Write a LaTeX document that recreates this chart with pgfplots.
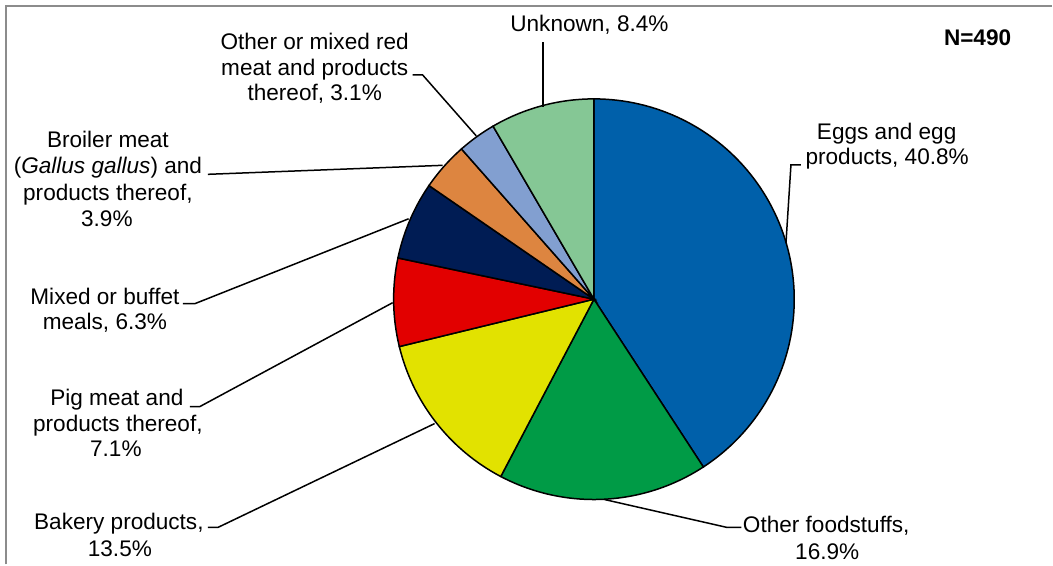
\documentclass[border=0pt]{standalone}
\usepackage{pgfplots}
\pgfplotsset{compat=1.18}
\usepackage{fontspec}
\setmainfont{Liberation Sans}
\definecolor{cEggs}{RGB}{0,96,170}
\definecolor{cOther}{RGB}{0,155,70}
\definecolor{cBak}{RGB}{226,226,0}
\definecolor{cPig}{RGB}{226,0,0}
\definecolor{cMix}{RGB}{0,28,84}
\definecolor{cBro}{RGB}{221,133,64}
\definecolor{cRed}{RGB}{130,159,208}
\definecolor{cUnk}{RGB}{133,199,149}
\definecolor{frame}{RGB}{140,140,140}
\begin{document}
\begin{tikzpicture}[lab/.style={anchor=base, inner sep=0pt, font=\fontsize{11.3}{13}\selectfont}]
\begin{axis}[hide axis, scale only axis, width=526.5pt, height=282.5pt,
  xmin=0, xmax=1053, ymin=0, ymax=565, clip=false,
  slice/.style={draw=black, line width=0.75pt, samples=90, variable=\p}]
% invisible bounding points
\addplot[draw=none] coordinates {(0,0) (1053,565)};
% frame (top and left only)
\addplot[frame, line width=1pt] coordinates {(6,0) (6,559) (1053,559)};
% pie slices: domain = cumulative percentages, clockwise from 12 o'clock
% Eggs 40.8, Other foodstuffs 16.9, Bakery 13.5, Pig 7.1, Mixed 6.3, Broiler 3.9, Other red meat 3.1, Unknown 8.4
\addplot[slice, fill=cEggs, domain=0:40.8]   ({594.5+200.5*cos(90-3.6*\p)},{265.5+200.5*sin(90-3.6*\p)}) -- (594.5,265.5) -- cycle;
\addplot[slice, fill=cOther, domain=40.8:57.7]({594.5+200.5*cos(90-3.6*\p)},{265.5+200.5*sin(90-3.6*\p)}) -- (594.5,265.5) -- cycle;
\addplot[slice, fill=cBak, domain=57.7:71.2] ({594.5+200.5*cos(90-3.6*\p)},{265.5+200.5*sin(90-3.6*\p)}) -- (594.5,265.5) -- cycle;
\addplot[slice, fill=cPig, domain=71.2:78.3] ({594.5+200.5*cos(90-3.6*\p)},{265.5+200.5*sin(90-3.6*\p)}) -- (594.5,265.5) -- cycle;
\addplot[slice, fill=cMix, domain=78.3:84.6] ({594.5+200.5*cos(90-3.6*\p)},{265.5+200.5*sin(90-3.6*\p)}) -- (594.5,265.5) -- cycle;
\addplot[slice, fill=cBro, domain=84.6:88.5] ({594.5+200.5*cos(90-3.6*\p)},{265.5+200.5*sin(90-3.6*\p)}) -- (594.5,265.5) -- cycle;
\addplot[slice, fill=cRed, domain=88.5:91.6] ({594.5+200.5*cos(90-3.6*\p)},{265.5+200.5*sin(90-3.6*\p)}) -- (594.5,265.5) -- cycle;
\addplot[slice, fill=cUnk, domain=91.6:100]  ({594.5+200.5*cos(90-3.6*\p)},{265.5+200.5*sin(90-3.6*\p)}) -- (594.5,265.5) -- cycle;
% leader lines
\addplot[black, line width=0.75pt] coordinates {(543.5,458) (543.5,523)};
\addplot[black, line width=0.75pt] coordinates {(413,490) (423,490) (476.7,429)};
\addplot[black, line width=0.75pt] coordinates {(208,390.5) (443,399.5)};
\addplot[black, line width=0.75pt] coordinates {(183,261) (195,261) (409,346)};
\addplot[black, line width=0.75pt] coordinates {(190,158) (200,158) (393,262)};
\addplot[black, line width=0.75pt] coordinates {(208,37) (218,37) (435,141)};
\addplot[black, line width=0.75pt] coordinates {(742,37) (728,37) (605,65)};
\addplot[black, line width=0.75pt] coordinates {(801.7,400) (791.7,400) (786.7,321.7)};
% labels
\node[lab] at (590,533.3) {Unknown, 8.4\%};
\node[lab] at (315,515) {Other or mixed red};
\node[lab] at (315,489.5) {meat and products};
\node[lab] at (315,464) {thereof, 3.1\%};
\node[lab] at (108,417.7) {Broiler meat};
\node[lab] at (108,391.7) {(\textit{Gallus gallus}) and};
\node[lab] at (108,364.3) {products thereof,};
\node[lab] at (107,338.3) {3.9\%};
\node[lab] at (105,260.7) {Mixed or buffet};
\node[lab] at (105,235) {meals, 6.3\%};
\node[lab] at (117,159) {Pig meat and};
\node[lab] at (118,133.3) {products thereof,};
\node[lab] at (116,108.3) {7.1\%};
\node[lab] at (119,35) {Bakery products,};
\node[lab] at (120,8.3) {13.5\%};
\node[lab] at (827,31.7) {Other foodstuffs,};
\node[lab] at (828,5) {16.9\%};
\node[lab] at (887.5,425) {Eggs and egg};
\node[lab] at (888,400) {products, 40.8\%};
\node[lab, font=\fontsize{11.3}{13}\selectfont\bfseries] at (978.5,519) {N=490};
\end{axis}
\end{tikzpicture}
\end{document}
